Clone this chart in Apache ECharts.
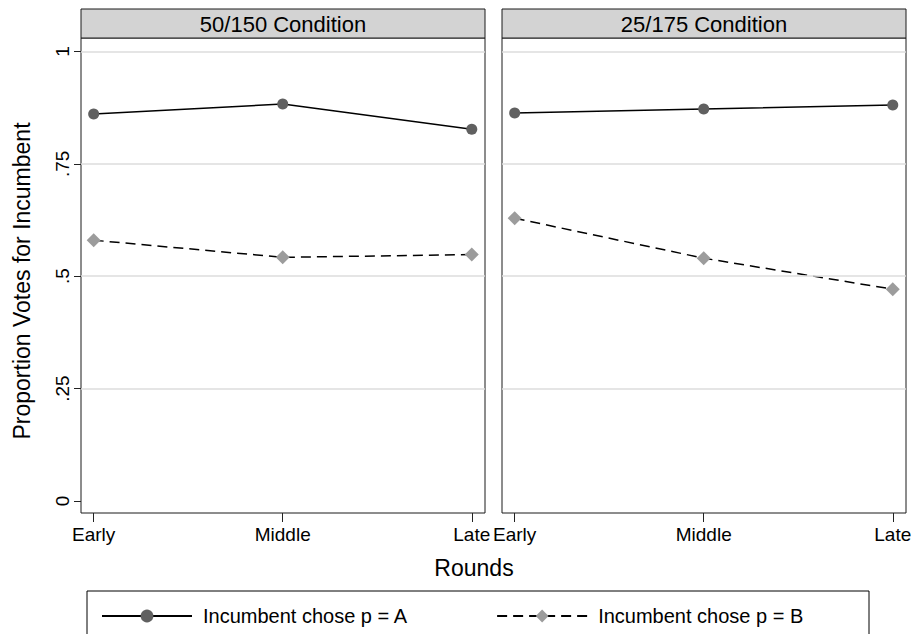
<!DOCTYPE html>
<html>
<head>
<meta charset="utf-8">
<script src="https://cdn.jsdelivr.net/npm/echarts@6/dist/echarts.min.js"></script>
<style>
  html, body { margin: 0; padding: 0; background: #fff; }
  #chart { width: 917px; height: 634px; }
</style>
</head>
<body>
<div id="chart"></div>
<script>
var rounds = ['Early', 'Middle', 'Late'];
var panels = ['50/150 Condition', '25/175 Condition'];
var seriesNames = ['Incumbent chose p = A', 'Incumbent chose p = B'];

// proportion of votes for the incumbent, one array per panel
var choseA_50 = [0.861, 0.883, 0.827];
var choseB_50 = [0.580, 0.542, 0.548];
var choseA_25 = [0.863, 0.872, 0.881];
var choseB_25 = [0.629, 0.540, 0.471];

var yTicks = [0, 0.25, 0.5, 0.75, 1];
var yTickLabels = ['0', '.25', '.5', '.75', '1'];
var gridLines = [0.25, 0.5, 0.75, 1];

var FONT = 'Liberation Sans, Arial, Helvetica, sans-serif';
var panelLeft = [81, 502];
var panelWidth = 404;
var plotTop = 38;
var plotHeight = 475;

function pts(arr) {
    return arr.map(function(v, i) { return [i, v]; });
}

var option = {
    animation: false,
    textStyle: { fontFamily: FONT },
    grid: panelLeft.map(function(l) {
        return {
            left: l, top: plotTop, width: panelWidth, height: plotHeight,
            show: true, borderColor: '#1a1a1a', borderWidth: 1, containLabel: false
        };
    }),
    xAxis: [0, 1].map(function(i) {
        return {
            type: 'value', gridIndex: i, min: -0.067, max: 2.07,
            axisLine: { show: false, onZero: false },
            splitLine: { show: false },
            axisTick: { show: true, customValues: [0, 1, 2], length: 9, inside: false,
                lineStyle: { color: '#222', width: 1 } },
            axisLabel: { customValues: [0, 1, 2], margin: 12, fontSize: 19, color: '#000',
                fontFamily: FONT,
                formatter: function(v) { return rounds[Math.round(v)]; } }
        };
    }),
    yAxis: [0, 1].map(function(i) {
        return {
            type: 'value', gridIndex: i, min: -0.027, max: 1.03,
            axisLine: { show: false, onZero: false },
            splitLine: { show: false },
            axisTick: { show: i === 0, customValues: yTicks, length: 7,
                lineStyle: { color: '#222', width: 1 } },
            axisLabel: { show: i === 0, customValues: yTicks, rotate: 90, margin: 9,
                fontSize: 19, color: '#000', fontFamily: FONT,
                formatter: function(v) {
                    var k = yTicks.indexOf(v);
                    return k >= 0 ? yTickLabels[k] : '';
                } }
        };
    }),
    legend: {
        left: 96, top: 601,
        itemWidth: 90, itemHeight: 16, itemGap: 88,
        data: seriesNames,
        textStyle: { fontSize: 20, color: '#000', fontFamily: FONT, padding: [0, 0, 0, 6] }
    },
    graphic: [],
    series: []
};

var panelData = [[choseA_50, choseB_50], [choseA_25, choseB_25]];

panelData.forEach(function(pd, i) {
    // grid lines
    option.series.push({
        type: 'line', xAxisIndex: i, yAxisIndex: i, data: [], z: 1, silent: true,
        markLine: {
            silent: true, symbol: 'none', label: { show: false },
            lineStyle: { color: '#dcdcdc', type: 'solid', width: 1.5 },
            data: gridLines.map(function(g) { return { yAxis: g }; })
        }
    });
    option.series.push({
        name: seriesNames[0], type: 'line', xAxisIndex: i, yAxisIndex: i, z: 3,
        data: pts(pd[0]),
        symbol: 'circle', symbolSize: 11,
        itemStyle: { color: '#606060' },
        lineStyle: { color: '#000', width: 1.5, type: 'solid' }
    });
    option.series.push({
        name: seriesNames[1], type: 'line', xAxisIndex: i, yAxisIndex: i, z: 2,
        data: pts(pd[1]),
        symbol: 'diamond', symbolSize: 14,
        itemStyle: { color: '#9c9c9c' },
        lineStyle: { color: '#000', width: 1.5, type: [10, 6] }
    });

    // panel header strip
    option.graphic.push({
        type: 'rect', z: 10,
        shape: { x: panelLeft[i], y: 9, width: panelWidth, height: plotTop - 9 },
        style: { fill: '#d3d3d3', stroke: '#1a1a1a', lineWidth: 1 }
    });
    option.graphic.push({
        type: 'text', z: 11,
        x: panelLeft[i] + panelWidth / 2, y: 24,
        style: { text: panels[i], fontSize: 22, fontFamily: FONT, fill: '#000',
            textAlign: 'center', textVerticalAlign: 'middle' }
    });
});

option.graphic.push({
    type: 'text', x: 22, y: 281, rotation: Math.PI / 2,
    style: { text: 'Proportion Votes for Incumbent', fontSize: 23, fontFamily: FONT,
        fill: '#000', textAlign: 'center', textVerticalAlign: 'middle' }
});
option.graphic.push({
    type: 'text', x: 474, y: 568,
    style: { text: 'Rounds', fontSize: 23, fontFamily: FONT,
        fill: '#000', textAlign: 'center', textVerticalAlign: 'middle' }
});
option.graphic.push({
    type: 'rect',
    shape: { x: 87, y: 591, width: 782, height: 70 },
    style: { fill: 'none', stroke: '#000', lineWidth: 1 }
});

var myChart = echarts.init(document.getElementById('chart'), null, { renderer: 'svg' });
myChart.setOption(option);
</script>
</body>
</html>
